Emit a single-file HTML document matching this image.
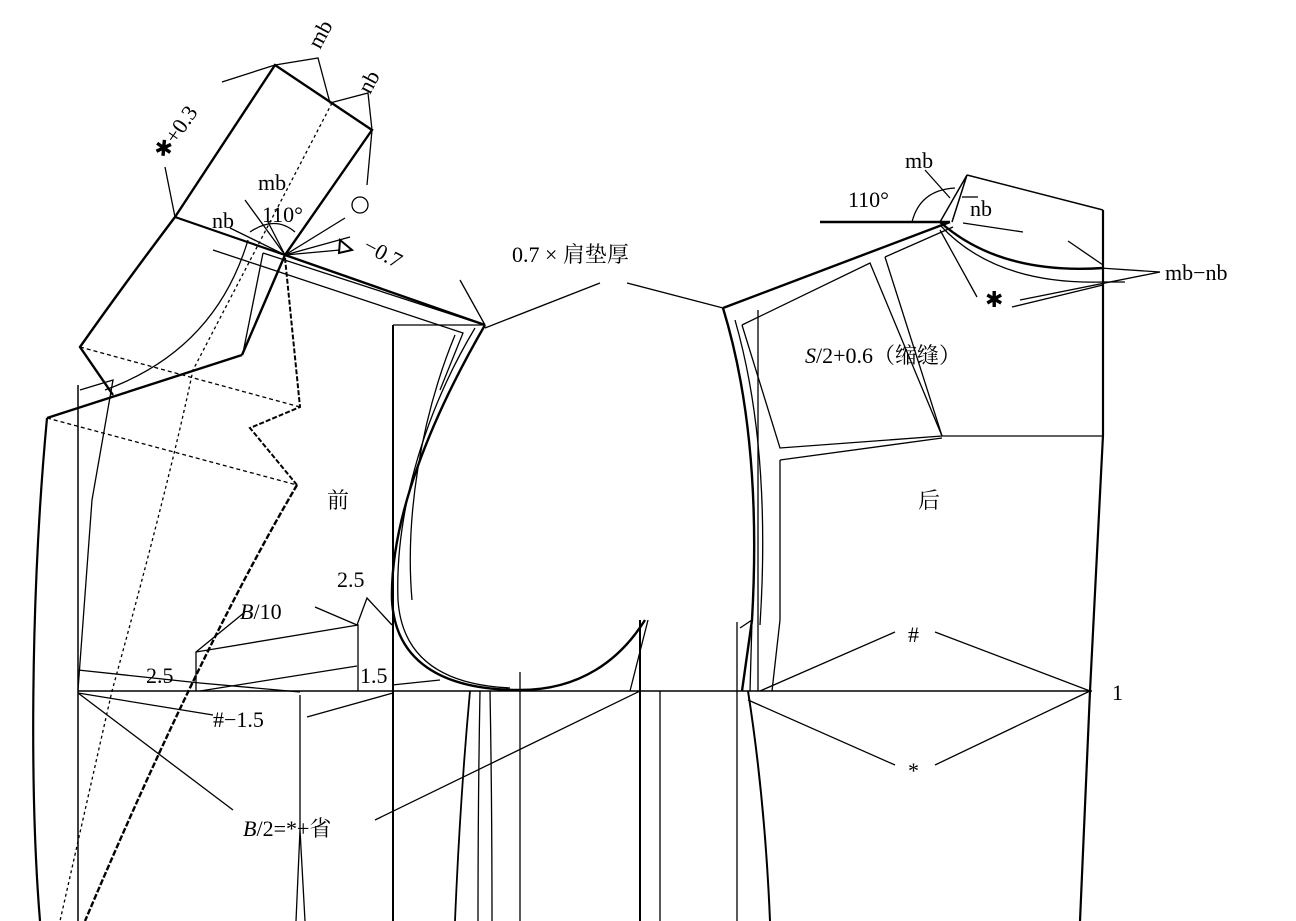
<!DOCTYPE html>
<html><head><meta charset="utf-8"><style>
html,body{margin:0;padding:0;background:#fff;}
svg{display:block}
text{font-family:"Liberation Serif","Noto Serif CJK SC",serif;font-size:22px;fill:#000}
</style></head><body>
<svg width="1296" height="921" viewBox="0 0 1296 921" xmlns="http://www.w3.org/2000/svg" fill="none" stroke="#000" stroke-width="1.3">
<line x1="78" y1="691" x2="1092" y2="691" stroke-width="1.6"/>
<polyline points="1103,210 1103,435 1090,691 1080,921" stroke-width="2.2"/>
<line x1="967" y1="175" x2="1103" y2="210" stroke-width="1.5"/>
<path d="M940,222 Q1000,275 1103,268" stroke-width="2.4"/>
<path d="M940,225 Q995,285 1103,282 L1125,282"/>
<polyline points="940,222 967,175 952,222" stroke-width="1.5"/>
<line x1="820" y1="222" x2="950" y2="222" stroke-width="2.4"/>
<path d="M912,222 Q920,190 955,188"/>
<line x1="925" y1="170" x2="950" y2="198"/>
<line x1="962" y1="197" x2="978" y2="197"/>
<line x1="963" y1="223" x2="1023" y2="232"/>
<line x1="1068" y1="241" x2="1103" y2="265"/>
<line x1="940" y1="230" x2="977" y2="297"/>
<line x1="1012" y1="307" x2="1103" y2="285"/>
<line x1="723" y1="308" x2="950" y2="222" stroke-width="2.4"/>
<polyline points="742,325 870,263 942,436"/>
<polyline points="742,325 780,448 942,436 1103,436"/>
<polyline points="885,257 953,227"/>
<line x1="885" y1="257" x2="942" y2="436"/>
<polyline points="780,460 942,438"/>
<line x1="780" y1="460" x2="780" y2="620"/>
<line x1="780" y1="620" x2="772" y2="691"/>
<line x1="758" y1="310" x2="758" y2="691"/>
<path d="M723,308 C745,380 760,480 752,620 L742,691" stroke-width="2.4"/>
<path d="M735,320 C758,400 768,500 760,625"/>
<line x1="737" y1="622" x2="737" y2="921"/>
<path d="M748,691 Q765,800 770,921" stroke-width="2"/>
<polyline points="740,628 752,620 750,691"/>
<line x1="285" y1="255" x2="485" y2="325" stroke-width="2.4"/>
<line x1="263" y1="253" x2="475" y2="322"/>
<polyline points="213,250 463,333 440,390"/>
<line x1="460" y1="280" x2="485" y2="325"/>
<line x1="600" y1="283" x2="485" y2="328"/>
<line x1="627" y1="283" x2="723" y2="308"/>
<path d="M485,325 C430,420 390,520 392,600 C395,660 440,690 520,690 C580,690 620,660 645,620" stroke-width="2.4"/>
<path d="M475,328 C420,420 395,520 398,600 C402,660 445,685 510,688"/>
<path d="M455,335 C420,420 405,520 412,600"/>
<line x1="393" y1="325" x2="393" y2="921" stroke-width="2"/>
<line x1="393" y1="325" x2="485" y2="325"/>
<line x1="520" y1="672" x2="520" y2="921"/>
<line x1="640" y1="620" x2="640" y2="921" stroke-width="2"/>
<line x1="660" y1="691" x2="660" y2="921"/>
<line x1="648" y1="620" x2="630" y2="691"/>
<path d="M470,691 Q460,800 455,921" stroke-width="1.8"/>
<path d="M480,691 Q478,800 478,921"/>
<path d="M490,691 Q492,800 492,921"/>
<line x1="78" y1="385" x2="78" y2="921" stroke-width="1.5"/>
<path d="M47,418 C30,600 30,800 40,921" stroke-width="2.2"/>
<line x1="47" y1="418" x2="242" y2="355" stroke-width="2.4"/>
<polyline points="80,390 113,380 92,500 78,690"/>
<path d="M105,390 Q215,350 248,240"/>
<polyline points="242,355 285,255 372,130 275,65 175,217" stroke-width="2.4"/>
<path d="M175,217 Q120,290 80,347 L113,395" stroke-width="2.4"/>
<line x1="175" y1="217" x2="285" y2="255" stroke-width="2.2"/>
<line x1="263" y1="253" x2="243" y2="353"/>
<polyline points="222,82 275,65 318,58 330,103 368,93 372,130 367,185"/>
<line x1="165" y1="167" x2="175" y2="217"/>
<line x1="80" y1="347" x2="300" y2="407" stroke-dasharray="4,3"/>
<line x1="47" y1="418" x2="297" y2="485" stroke-dasharray="4,3"/>
<polyline points="297,485 250,428 300,407 285,258" stroke-dasharray="5,2" stroke-width="2"/>
<path d="M332,103 L193,370 Q170,480 112,691 L60,921" stroke-dasharray="3,3"/>
<path d="M297,485 Q200,650 85,921" stroke-width="2.4" stroke-dasharray="6,2"/>
<path d="M250,232 Q275,215 295,232"/>
<line x1="285" y1="255" x2="345" y2="218"/>
<line x1="285" y1="255" x2="350" y2="237"/>
<line x1="285" y1="255" x2="340" y2="250"/>
<line x1="285" y1="255" x2="245" y2="200"/>
<line x1="285" y1="255" x2="230" y2="228"/>
<line x1="285" y1="255" x2="268" y2="222"/>
<circle cx="360" cy="205" r="8"/>
<polygon points="340,240 352,250 339,253" stroke-width="2"/>
<line x1="1160" y1="272" x2="1100" y2="268"/>
<line x1="1160" y1="272" x2="1020" y2="300"/>
<polyline points="196,691 196,652 358,625 358,691"/>
<line x1="196" y1="652" x2="245" y2="612"/>
<line x1="315" y1="607" x2="357" y2="625"/>
<polyline points="357,625 367,598 392,625"/>
<polyline points="78,670 200,683 300,692"/>
<line x1="200" y1="691" x2="357" y2="666"/>
<line x1="392" y1="685" x2="440" y2="680"/>
<line x1="78" y1="693" x2="213" y2="715"/>
<line x1="307" y1="717" x2="393" y2="693"/>
<line x1="78" y1="693" x2="233" y2="810"/>
<line x1="375" y1="820" x2="640" y2="691"/>
<line x1="300" y1="695" x2="300" y2="830"/>
<polyline points="296,921 300,830 305,921"/>
<line x1="760" y1="691" x2="895" y2="632"/>
<line x1="935" y1="632" x2="1090" y2="691"/>
<line x1="748" y1="700" x2="895" y2="765"/>
<line x1="935" y1="765" x2="1090" y2="691"/>
<g stroke="none" fill="#000">
<text x="165" y="160" transform="rotate(-55 165 160)">✱+0.3</text>
<text x="320" y="50" transform="rotate(-62 320 50)">mb</text>
<text x="370" y="95" transform="rotate(-62 370 95)">nb</text>
<text x="258" y="190">mb</text>
<text x="212" y="228">nb</text>
<text x="262" y="222">110°</text>
<text x="362" y="250" transform="rotate(28 362 250)">−0.7</text>
<text x="512" y="262">0.7 × 肩垫厚</text>
<text x="905" y="168">mb</text>
<text x="848" y="207">110°</text>
<text x="970" y="216">nb</text>
<text x="985" y="307">✱</text>
<text x="1165" y="280">mb−nb</text>
<text x="805" y="363"><tspan font-style="italic">S</tspan>/2+0.6（缩缝）</text>
<text x="327" y="508">前</text>
<text x="918" y="508">后</text>
<text x="337" y="587">2.5</text>
<text x="240" y="619"><tspan font-style="italic">B</tspan>/10</text>
<text x="146" y="683">2.5</text>
<text x="360" y="683">1.5</text>
<text x="213" y="727">#−1.5</text>
<text x="243" y="836"><tspan font-style="italic">B</tspan>/2=*+省</text>
<text x="908" y="642">#</text>
<text x="908" y="778">*</text>
<text x="1112" y="700">1</text>
</g>
</svg>
</body></html>
